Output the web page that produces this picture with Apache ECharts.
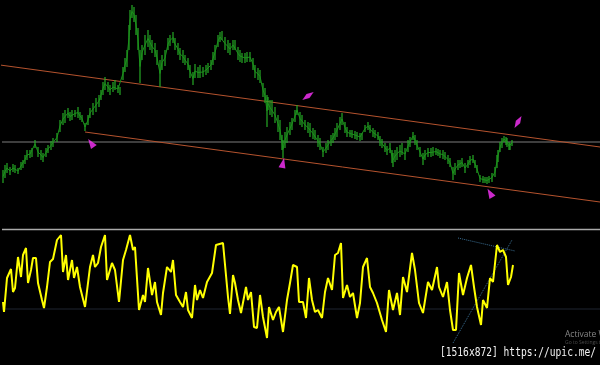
<!DOCTYPE html>
<html><head><meta charset="utf-8">
<script src="https://cdn.jsdelivr.net/npm/echarts@6/dist/echarts.min.js"></script>
<style>html,body{margin:0;padding:0;background:#000;}#c{width:600px;height:365px;}</style>
</head><body><div id="c"></div>
<script>
// price bars (time index, high, low)
const barTime = [3,5,7,10,13,15,18,21,23,25,27,30,32,35,38,41,43,46,48,51,53,57,60,63,65,68,70,72,75,78,80,82,85,88,90,93,96,99,101,103,105,108,110,113,115,118,120,123,125,127,129,130,132,134,136,138,140,142,145,148,150,152,155,157,160,162,165,168,170,173,175,178,180,183,185,188,190,193,195,198,200,203,206,208,211,213,215,218,220,222,225,228,230,233,235,238,240,242,245,247,250,253,255,258,260,263,265,267,268,270,272,275,278,280,282,283,285,287,290,292,295,297,300,302,305,308,310,313,315,318,320,323,326,328,331,333,335,337,340,342,345,347,350,352,355,357,360,362,365,368,370,373,375,378,380,382,385,387,390,392,393,395,397,400,402,405,408,410,413,415,417,420,423,425,428,431,433,436,438,440,443,445,448,450,453,455,458,460,462,465,468,470,473,475,477,480,483,485,487,489,492,495,497,498,500,502,504,506,507,509,510,512];
const barHigh = [60,65,67,63,66,65,62,68,70,75,80,80,82,90,83,80,77,82,85,89,92,97,110,117,120,122,118,120,120,123,118,115,107,115,122,127,132,135,140,148,153,148,145,148,150,145,143,163,172,180,205,220,225,223,215,202,180,185,195,200,195,190,187,180,170,175,180,192,195,198,192,187,182,180,175,172,165,158,166,163,165,163,165,167,170,178,185,195,198,199,193,190,187,190,190,183,180,177,177,178,178,172,165,162,160,147,142,135,133,130,130,123,115,110,95,90,98,103,108,112,120,125,118,115,110,108,107,102,100,95,92,83,87,90,95,97,102,107,113,117,108,103,100,100,99,98,97,97,105,108,105,102,100,98,94,91,87,84,87,80,77,80,83,85,87,82,90,93,98,95,90,83,77,80,82,82,83,82,81,80,80,78,75,72,63,67,70,70,72,67,70,74,75,70,65,55,54,53,53,54,57,63,75,80,88,92,94,93,92,88,87,90];
const barLow = [47,52,57,55,58,57,56,60,62,66,70,72,73,82,73,70,68,73,77,80,83,88,98,105,107,112,109,110,113,112,110,108,99,105,112,115,118,123,130,135,140,138,135,138,140,137,135,150,158,163,180,200,212,208,195,180,147,170,175,183,180,177,173,165,143,160,164,180,184,187,180,175,170,167,165,160,152,145,152,152,152,153,155,157,160,165,170,183,188,190,180,177,175,180,180,170,168,167,167,168,168,160,152,150,147,133,127,103,120,115,113,107,98,90,80,72,82,87,95,100,108,115,105,103,100,97,93,91,90,83,80,73,77,80,84,87,90,93,100,105,97,93,93,92,91,90,89,90,98,100,97,93,92,90,84,82,78,75,77,67,63,68,70,73,75,70,78,83,90,85,80,73,65,70,73,73,74,75,74,72,71,70,66,63,50,55,60,62,63,57,62,65,67,62,57,48,47,47,46,47,48,53,62,68,78,82,88,85,83,80,80,84];
// channel lines and level
const upperChannel = [[0,165],[600,83]];
const lowerChannel = [[85,98],[600,28]];
const levelPrice = 88;
// signal arrows: [time, price]
const arrowUp = [[91,87],[283,67],[490,37]];
const arrowUpRot = [35,-12,30];
const arrowDiag = [[308,134],[518,108]];
const arrowDiagRot = [-54,-30];
// oscillator
const oscTime = [3,4,7,9,11,13,15,18,21,23,26,28,31,33,36,38,42,44,47,50,53,57,61,63,66,68,72,74,77,80,85,90,93,95,98,101,105,107,112,115,119,123,126,130,133,135,139,143,145,148,152,155,157,161,163,167,171,173,176,180,183,186,188,192,195,197,200,203,207,209,212,216,223,228,230,233,235,238,241,246,248,251,254,257,260,263,267,269,273,276,279,283,287,290,293,297,299,303,306,309,312,315,318,322,325,328,332,335,338,341,343,347,350,353,357,360,363,367,370,373,377,382,386,389,393,397,400,403,407,412,415,419,423,428,432,437,439,443,447,450,453,456,459,463,467,471,474,477,481,483,487,490,493,497,500,503,506,508,511,513];
const oscValue = [63,53,87,88,96,73,77,108,88,110,117,82,95,107,107,82,65,57,78,103,106,125,130,93,110,85,105,87,98,78,58,98,110,98,102,118,130,85,102,95,63,105,115,130,115,118,55,70,63,97,70,83,63,50,72,98,93,105,70,63,58,73,55,47,80,65,75,67,83,82,92,120,122,68,51,90,82,65,52,78,65,73,38,37,70,48,27,58,45,53,58,33,65,82,100,98,63,63,47,87,65,53,55,47,73,87,75,110,112,122,67,80,68,72,47,62,98,107,78,72,62,45,33,75,55,72,50,88,73,112,95,62,52,83,75,98,78,68,83,55,35,35,92,70,87,100,78,58,40,65,57,87,83,120,113,115,108,80,88,100];
const oscLevel = 56;
const trendA = [[458,127],[515,114]];
const trendB = [[453,22],[512,125]];

const chart = echarts.init(document.getElementById('c'), null, {renderer:'canvas'});
const bars = barTime.map((t,i)=>[t, barHigh[i], barLow[i]]);
const option = {
  backgroundColor:'#000',
  animation:false,
  grid:[{left:2,right:0,top:0,height:230},{left:2,right:0,top:230,height:135}],
  xAxis:[{type:'value',gridIndex:0,min:2,max:600,show:false},{type:'value',gridIndex:1,min:2,max:600,show:false}],
  yAxis:[{type:'value',gridIndex:0,min:0,max:230,show:false},{type:'value',gridIndex:1,min:0,max:135,show:false}],
  graphic:[
    {type:'line',shape:{x1:2,y1:229.5,x2:600,y2:229.5},style:{stroke:'#a9a9a9',lineWidth:1.5},z:10},
    {type:'text',x:565,y:330,style:{text:'Activate Windows',fill:'#858585',font:'8.5px "Open Sans"'},z:10},
    {type:'text',x:565,y:340,style:{text:'Go to Settings to activate Windows.',fill:'#4a4a4a',font:'5px "Open Sans"'},z:10},
    {type:'text',x:440,y:347,scaleX:0.8,style:{text:'[1516x872] https://upic.me/',fill:'#f2f2f2',font:'12px "DejaVu Sans Mono"'},z:11}
  ],
  series:[
    {type:'line',xAxisIndex:0,yAxisIndex:0,data:[[2,levelPrice],[600,levelPrice]],symbol:'none',lineStyle:{color:'#7c7c7c',width:1},z:1},
    {type:'line',xAxisIndex:0,yAxisIndex:0,data:upperChannel,symbol:'none',lineStyle:{color:'#b5532e',width:1},z:2},
    {type:'line',xAxisIndex:0,yAxisIndex:0,data:lowerChannel,symbol:'none',lineStyle:{color:'#b5532e',width:1},z:2},
    {type:'custom',xAxisIndex:0,yAxisIndex:0,data:bars,encode:{x:0,y:[1,2]},z:3,
      renderItem:function(params,api){
        const p1=api.coord([api.value(0),api.value(1)]);
        const p2=api.coord([api.value(0),api.value(2)]);
        return {type:'line',shape:{x1:p1[0],y1:p1[1],x2:p2[0],y2:p2[1]},style:{stroke:'#26aa26',lineWidth:1.2}};
      }},
    {type:'line',xAxisIndex:0,yAxisIndex:0,data:bars.map(b=>[b[0],(b[1]+b[2])/2]),symbol:'none',lineStyle:{color:'#1b921b',width:1},z:3},
    {type:'scatter',xAxisIndex:0,yAxisIndex:0,z:5,
      data:arrowUp.map((p,i)=>({value:p,symbol:'triangle',symbolSize:[7,10],symbolRotate:arrowUpRot[i]})),
      itemStyle:{color:'#ff33ff'}},
    {type:'scatter',xAxisIndex:0,yAxisIndex:0,z:5,
      data:arrowDiag.map((p,i)=>({value:p,symbol:'diamond',symbolSize:[5,14],symbolRotate:arrowDiagRot[i]})),
      itemStyle:{color:'#ff33ff'}},
    {type:'line',xAxisIndex:1,yAxisIndex:1,data:[[2,oscLevel],[600,oscLevel]],symbol:'none',lineStyle:{color:'#1f2430',width:1},z:1},
    {type:'line',xAxisIndex:1,yAxisIndex:1,data:oscTime.map((t,i)=>[t,oscValue[i]]),symbol:'none',lineStyle:{color:'#ffff00',width:2},z:4},
    {type:'line',xAxisIndex:1,yAxisIndex:1,data:trendA,symbol:'none',lineStyle:{color:'#3a6f94',width:1,type:'dotted'},z:3},
    {type:'line',xAxisIndex:1,yAxisIndex:1,data:trendB,symbol:'none',lineStyle:{color:'#3a6f94',width:1,type:'dotted'},z:3}
  ]
};
chart.setOption(option);
</script></body></html>
